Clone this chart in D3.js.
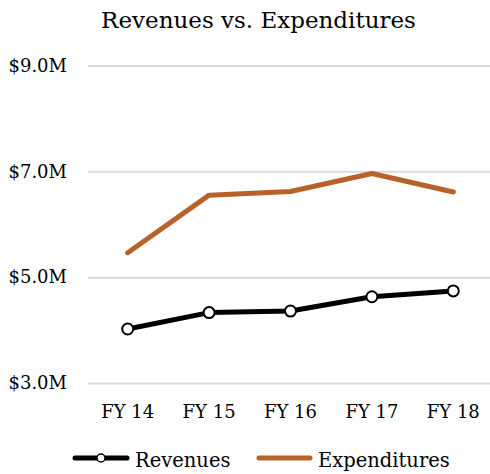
<!DOCTYPE html>
<html><head><meta charset="utf-8">
<script src="https://cdn.jsdelivr.net/npm/d3@7"></script>
<style>html,body{margin:0;padding:0;background:#fff;}svg{display:block;}</style>
</head><body>
<svg id="c" width="490" height="474"></svg>
<script>
const categories = ["FY 14","FY 15","FY 16","FY 17","FY 18"];
const revenues = [4.02, 4.33, 4.36, 4.63, 4.74];
const expenditures = [5.46, 6.55, 6.62, 6.96, 6.61];
const yTicks = [3, 5, 7, 9];
const yTickLabels = ["$3.0M","$5.0M","$7.0M","$9.0M"];
const title = "Revenues vs. Expenditures";
const seriesNames = ["Revenues","Expenditures"];

const FONT = "'DejaVu Serif', serif";
const svg = d3.select("#c");
const x = d3.scaleBand().domain(categories).range([87, 494]);
const y = d3.scaleLinear().domain([3, 9]).range([383, 65.5]);
const cx = d => x(d) + x.bandwidth()/2;

svg.append("text").attr("x", 258.5).attr("y", 28).attr("text-anchor","middle")
  .attr("font-family", FONT).attr("font-size", 23).attr("fill","#000").text(title);

// gridlines
const yAxis = d3.axisLeft(y).tickValues(yTicks).tickSize(-(490-88))
  .tickFormat((d,i) => yTickLabels[i]);
const ga = svg.append("g").attr("transform","translate(88,0)").call(yAxis);
ga.select(".domain").remove();
ga.selectAll(".tick line").attr("stroke","#d9d9d9").attr("stroke-width",2);
ga.selectAll(".tick text").attr("x",-21).attr("font-family",FONT).attr("font-size",18).attr("fill","#000");

const xAxis = d3.axisBottom(x).tickSize(0);
const gx = svg.append("g").attr("transform","translate(0,402)").call(xAxis);
gx.select(".domain").remove();
gx.selectAll(".tick text").attr("font-family",FONT).attr("font-size",18).attr("fill","#000");

const line = d3.line().x((d,i)=>cx(categories[i])).y(d=>y(d));
svg.append("path").datum(expenditures).attr("d",line).attr("fill","none")
  .attr("stroke","#b8612a").attr("stroke-width",5).attr("stroke-linejoin","round").attr("stroke-linecap","round");
svg.append("path").datum(revenues).attr("d",line).attr("fill","none")
  .attr("stroke","#000").attr("stroke-width",5).attr("stroke-linejoin","round").attr("stroke-linecap","round");
svg.selectAll("circle.rev").data(revenues).enter().append("circle")
  .attr("cx",(d,i)=>cx(categories[i])).attr("cy",d=>y(d)).attr("r",5.5)
  .attr("fill","#fff").attr("stroke","#000").attr("stroke-width",2);

// legend
const lg = svg.append("g").attr("transform","translate(0,458)");
lg.append("line").attr("x1",75).attr("x2",127).attr("stroke","#000").attr("stroke-width",5).attr("stroke-linecap","round");
lg.append("circle").attr("cx",101).attr("cy",0).attr("r",4).attr("fill","#fff").attr("stroke","#000").attr("stroke-width",1.5);
lg.append("text").attr("x",135).attr("y",9).attr("font-family",FONT).attr("font-size",19.5).text(seriesNames[0]);
lg.append("line").attr("x1",259).attr("x2",310).attr("stroke","#b8612a").attr("stroke-width",5).attr("stroke-linecap","round");
lg.append("text").attr("x",318).attr("y",9).attr("font-family",FONT).attr("font-size",19.5).text(seriesNames[1]);
</script>
</body></html>
